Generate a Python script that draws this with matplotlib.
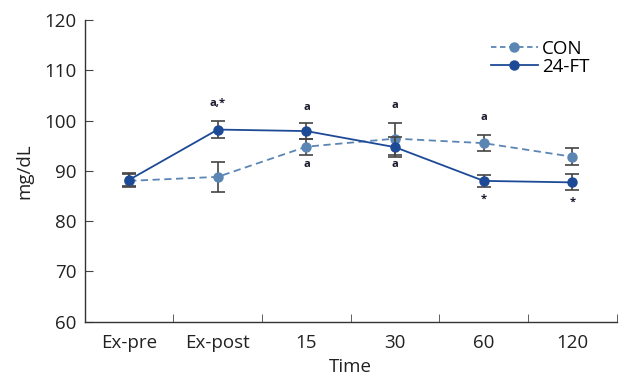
import matplotlib
matplotlib.use('Agg')
import matplotlib.pyplot as plt
from matplotlib.lines import Line2D
import numpy as np

plt.rcParams['font.family'] = ['Open Sans', 'DejaVu Sans']

times = ['Ex-pre', 'Ex-post', '15', '30', '60', '120']
con_mean = [88.0, 88.8, 94.8, 96.4, 95.5, 92.8]
con_err = [1.3, 3.0, 1.6, 3.2, 1.6, 1.7]
ft_mean = [88.2, 98.2, 97.9, 94.7, 88.0, 87.7]
ft_err = [1.3, 1.7, 1.6, 2.0, 1.2, 1.6]

# significance marks: (x index, y value, text)
marks_x = [1, 2, 2, 3, 3, 4, 4, 5]
marks_y = [103.3, 102.6, 91.3, 103.0, 91.3, 100.6, 84.3, 83.7]
marks_t = ['a,*', 'a', 'a', 'a', 'a', 'a', '*', '*']

CON_C = '#5b86b3'
FT_C = '#1d4a96'

fig = plt.figure(figsize=(6.28, 3.83), dpi=100)
ax = fig.add_axes([0.135, 0.160, 0.847, 0.788])

x = np.arange(len(times))
ax.errorbar(x, con_mean, yerr=con_err, color=CON_C, ls='--', lw=1.3,
            marker='o', ms=6.5, ecolor='#444444', elinewidth=1.2,
            capsize=5, capthick=1.2, zorder=3, dashes=(4, 2.5))
ax.errorbar(x, ft_mean, yerr=ft_err, color=FT_C, ls='-', lw=1.3,
            marker='o', ms=6.5, ecolor='#444444', elinewidth=1.2,
            capsize=5, capthick=1.2, zorder=4)

for xi, yi, t in zip(marks_x, marks_y, marks_t):
    ax.text(xi, yi, t, ha='center', va='center', fontsize=8,
            fontweight='bold', color='#1a1a2e')

ax.set_xlim(-0.5, 5.5)
ax.set_ylim(60, 120)
ax.set_yticks(np.arange(60, 121, 10))
ax.set_xticks(x)
ax.set_xticklabels(times)
ax.set_xticks(np.arange(0.5, 5.6, 1.0), minor=True)
ax.tick_params(axis='x', which='major', length=0, labelsize=13.5, pad=9,
               labelcolor='#222222')
ax.tick_params(axis='x', which='minor', direction='in', length=6,
               color='#444444')
ax.tick_params(axis='y', direction='in', length=6, labelsize=13.5,
               color='#444444', labelcolor='#222222', pad=6)
for s in ('top', 'right'):
    ax.spines[s].set_visible(False)
for s in ('left', 'bottom'):
    ax.spines[s].set_color('#333333')
    ax.spines[s].set_linewidth(1.0)

ax.set_xlabel('Time', fontsize=13.5, color='#222222', labelpad=4)
ax.set_ylabel('mg/dL', fontsize=13.5, color='#222222', labelpad=8)

handles = [
    Line2D([], [], color=CON_C, ls='--', lw=1.3, marker='o', ms=6.5,
           dashes=(3, 2)),
    Line2D([], [], color=FT_C, ls='-', lw=1.3, marker='o', ms=6.5),
]
ax.legend(handles, ['CON', '24-FT'], loc='upper right',
          bbox_to_anchor=(0.98, 0.99), frameon=False, fontsize=13.5,
          handlelength=2.5, handletextpad=0.2, labelspacing=0.0)

fig.savefig('out.png', dpi=100)
